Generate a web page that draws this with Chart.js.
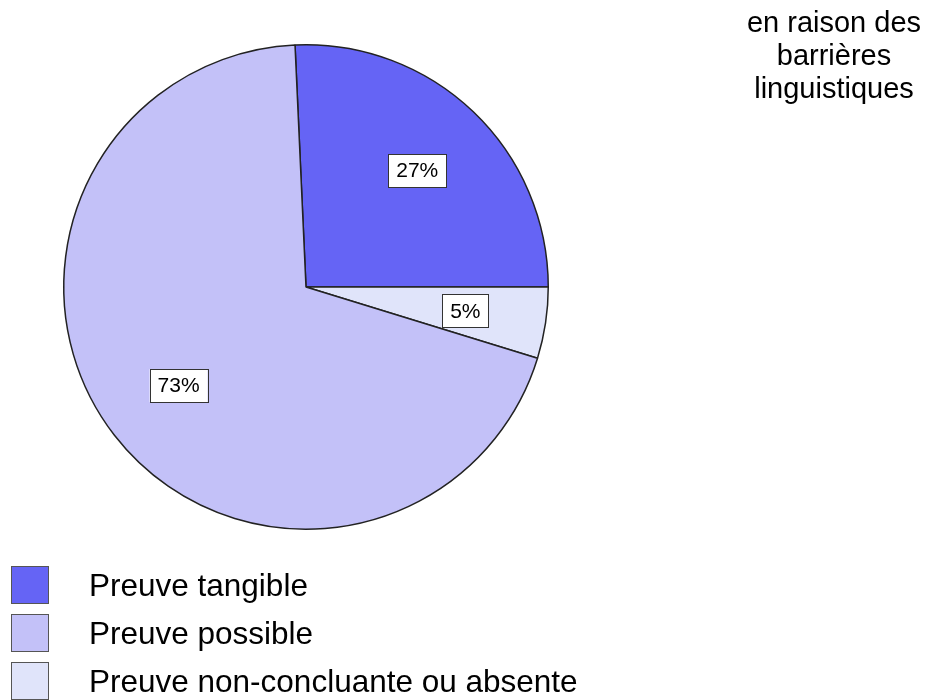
<!DOCTYPE html>
<html>
<head>
<meta charset="utf-8">
<script src="https://cdn.jsdelivr.net/npm/chart.js@4.4.1/dist/chart.umd.min.js"></script>
<style>
  html, body { margin: 0; padding: 0; background: #fff; }
  #wrap { position: relative; width: 935px; height: 700px; }
</style>
</head>
<body>
<div id="wrap"><canvas id="pieChart" width="935" height="700"></canvas></div>
<script>
// categories in legend order
const categories = ['Preuve tangible', 'Preuve possible', 'Preuve non-concluante ou absente'];
const values = [27, 73, 5];
const valueLabels = ['27%', '73%', '5%'];
const colors = ['#6564f5', '#c3c1f8', '#e0e4fa'];
// clockwise order of the slices in the pie
const sliceOrder = [0, 2, 1];
const titleLines = ['en raison des', 'barrières', 'linguistiques'];

const FONT = '"Liberation Sans", Arial, sans-serif';

const overlay = {
  id: 'overlay',
  afterDatasetsDraw(chart) {
    const ctx = chart.ctx;
    const meta = chart.getDatasetMeta(0);
    ctx.save();
    ctx.font = '21px ' + FONT;
    ctx.textAlign = 'center';
    ctx.textBaseline = 'middle';
    meta.data.forEach((arc, i) => {
      const p = arc.getProps(['x', 'y', 'startAngle', 'endAngle', 'outerRadius'], true);
      const mid = (p.startAngle + p.endAngle) / 2;
      const r = p.outerRadius * 0.665;
      const x = p.x + Math.cos(mid) * r;
      const y = p.y + Math.sin(mid) * r;
      const txt = valueLabels[sliceOrder[i]];
      const w = ctx.measureText(txt).width + 16;
      const h = 33;
      ctx.fillStyle = '#fff';
      ctx.fillRect(x - w / 2, y - h / 2, w, h);
      ctx.strokeStyle = '#333';
      ctx.lineWidth = 1;
      ctx.strokeRect(Math.round(x - w / 2) + 0.5, Math.round(y - h / 2) + 0.5, Math.round(w), h);
      ctx.fillStyle = '#000';
      ctx.fillText(txt, x, y + 1);
    });

    // title top right
    ctx.font = '29px ' + FONT;
    ctx.textAlign = 'center';
    ctx.textBaseline = 'alphabetic';
    titleLines.forEach((t, i) => ctx.fillText(t, 834, 32 + i * 33));

    // legend
    ctx.textAlign = 'left';
    ctx.textBaseline = 'middle';
    ctx.font = '31.5px ' + FONT;
    categories.forEach((c, i) => {
      const y = 566 + i * 48;
      ctx.fillStyle = colors[i];
      ctx.fillRect(11, y, 38, 38);
      ctx.strokeStyle = '#555';
      ctx.lineWidth = 1;
      ctx.strokeRect(11.5, y + 0.5, 37, 37);
      ctx.fillStyle = '#000';
      ctx.fillText(c, 89, y + 21);
    });
    ctx.restore();
  }
};

new Chart(document.getElementById('pieChart'), {
  type: 'pie',
  data: {
    labels: sliceOrder.map(i => categories[i]),
    datasets: [{
      data: sliceOrder.map(i => values[i]),
      backgroundColor: sliceOrder.map(i => colors[i]),
      borderColor: '#222',
      borderWidth: 1.5,
      borderAlign: 'center'
    }]
  },
  options: {
    responsive: false,
    animation: false,
    rotation: -2.6,
    layout: { padding: { left: 63, top: 44, right: 386, bottom: 170 } },
    plugins: {
      legend: { display: false },
      tooltip: { enabled: false }
    }
  },
  plugins: [overlay]
});
</script>
</body>
</html>
